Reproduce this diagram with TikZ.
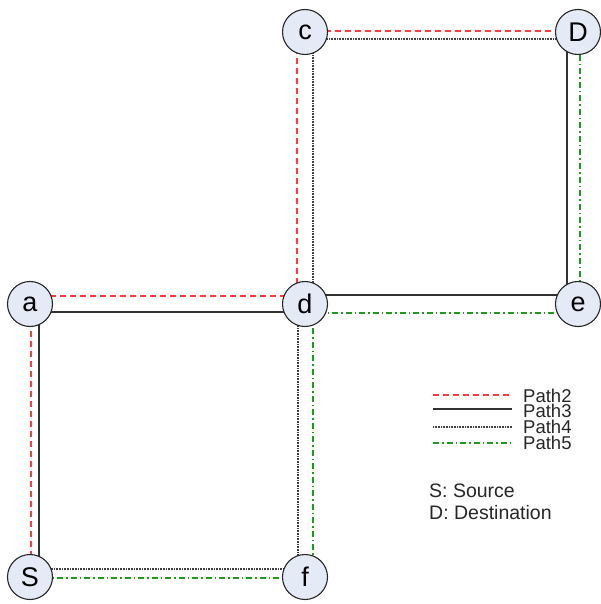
\documentclass[tikz,border=0pt]{standalone}
\usepackage{fontspec}
\setmainfont{Liberation Sans}
\usetikzlibrary{backgrounds}
\definecolor{nodefill}{HTML}{E4EAF6}
\definecolor{pathred}{HTML}{FF3B3B}
\definecolor{pathgreen}{HTML}{1E9A1E}
\tikzset{
  vertex/.style={circle, draw=black!85, line width=1.1pt, fill=nodefill,
    minimum size=45pt, inner sep=0pt, font=\fontsize{27}{27}\selectfont},
  ptwo/.style={pathred, dashed, dash pattern=on 6pt off 4pt, line width=1.2pt},
  pthree/.style={black!80, line width=1.3pt},
  pfour/.style={black!75, dash pattern=on 1pt off 0.6pt, line width=1.2pt},
  pfive/.style={pathgreen, dash pattern=on 6pt off 3pt on 1.5pt off 3pt, line width=1.2pt},
  legtext/.style={anchor=west, inner sep=0pt, text height=13pt, text depth=0pt,
    font=\fontsize{18.5}{18.5}\selectfont, text=black!85},
  notetext/.style={anchor=west, inner sep=0pt, text height=14pt, text depth=0pt,
    font=\fontsize{19.5}{19.5}\selectfont, text=black!85}
}
\begin{document}
\begin{tikzpicture}[x=1pt, y=-1pt]
\useasboundingbox (0,0) rectangle (600,604);

% vertices
\node[vertex] (c) at (305,32) {c};
\node[vertex] (D) at (578,32) {D};
\node[vertex] (a) at (30,304) {a};
\node[vertex] (d) at (305,304) {d};
\node[vertex] (e) at (578,304) {e};
\node[vertex] (S) at (30,577) {S};
\node[vertex] (f) at (305,577) {f};

\begin{scope}[on background layer]
% Path2: S - a - d - c - D
\draw[ptwo] ([xshift=1pt]S.center) -- ([xshift=1pt]a.center);
\draw[ptwo] ([yshift=8pt]a.center) -- ([yshift=8pt]d.center);
\draw[ptwo] ([xshift=-8pt]d.center) -- ([xshift=-8pt]c.center);
\draw[ptwo] ([yshift=1pt]c.center) -- ([yshift=1pt]D.center);
% Path3: S - a - d - e - D
\draw[pthree] ([xshift=9pt]S.center) -- ([xshift=9pt]a.center);
\draw[pthree] ([yshift=-8pt]a.center) -- ([yshift=-8pt]d.center);
\draw[pthree] ([yshift=9pt]d.center) -- ([yshift=9pt]e.center);
\draw[pthree] ([xshift=-11pt]e.center) -- ([xshift=-11pt]D.center);
% Path4: S - f - d - c - D
\draw[pfour] ([yshift=8pt]S.center) -- ([yshift=8pt]f.center);
\draw[pfour] ([xshift=-7pt]f.center) -- ([xshift=-7pt]d.center);
\draw[pfour] ([xshift=8pt]d.center) -- ([xshift=8pt]c.center);
\draw[pfour] ([yshift=-7pt]c.center) -- ([yshift=-7pt]D.center);
% Path5: S - f - d - e - D
\draw[pfive] ([yshift=-1pt]S.center) -- ([yshift=-1pt]f.center);
\draw[pfive] ([xshift=8pt]f.center) -- ([xshift=8pt]d.center);
\draw[pfive] ([yshift=-9pt]d.center) -- ([yshift=-9pt]e.center);
\draw[pfive] ([xshift=2pt]e.center) -- ([xshift=2pt]D.center);
\end{scope}

% legend
\coordinate (l2a) at (433,395); \coordinate (l2b) at (512,395);
\coordinate (l3a) at (433,409); \coordinate (l3b) at (512,409);
\coordinate (l4a) at (433,427); \coordinate (l4b) at (512,427);
\coordinate (l5a) at (433,443); \coordinate (l5b) at (512,443);
\draw[ptwo] (l2a) -- (l2b);
\draw[pthree] (l3a) -- (l3b);
\draw[pfour] (l4a) -- (l4b);
\draw[pfive] (l5a) -- (l5b);
\node[legtext] (t2) at (523,395.5) {Path2};
\node[legtext] (t3) at (523,411) {Path3};
\node[legtext] (t4) at (523,427) {Path4};
\node[legtext] (t5) at (523,442.5) {Path5};
\node[notetext] (src) at (429,490) {S: Source};
\node[notetext] (dst) at (429,512) {D: Destination};
\end{tikzpicture}
\end{document}
